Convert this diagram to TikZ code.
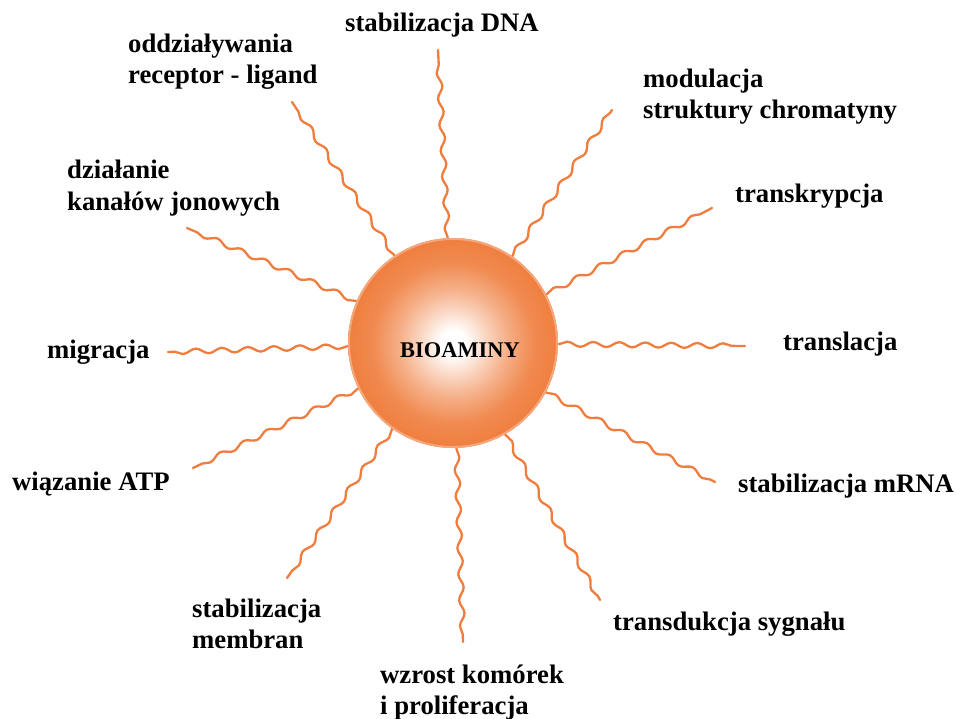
\documentclass[tikz,border=0pt]{standalone}
\usepackage{fontspec}
\setmainfont{Liberation Serif}
\usetikzlibrary{decorations.pathmorphing}
\definecolor{orng}{HTML}{EF7E3E}
\definecolor{rim}{HTML}{F5A67A}
\pgfdeclareradialshading{bulb}{\pgfpoint{0bp}{0bp}}{%
  color(0bp)=(white); color(3bp)=(white); color(8bp)=(orng!32!white);
  color(13bp)=(orng!62!white); color(19bp)=(orng!90!white);
  color(25bp)=(orng); color(50bp)=(orng)}
\newcommand{\twolines}[2]{\vtop{\baselineskip=31bp\hbox{#1}\hbox{#2}}}
\tikzset{
  lbl/.style={anchor=base west, inner sep=0pt, font=\fontsize{26.8}{31}\selectfont\bfseries},
  wavy/.style={draw=orng, line width=2.3bp, line cap=round,
    decorate, decoration={snake, segment length=26bp, amplitude=2.5bp, pre length=1bp, post length=2bp}},
}
\begin{document}
\begin{tikzpicture}[x=1bp,y=-1bp]
\useasboundingbox (0,0) rectangle (956,719);
% outer ends
\coordinate (e1) at (438,50);
\coordinate (e2) at (612,110);
\coordinate (e3) at (712,208);
\coordinate (e4) at (745,346);
\coordinate (e5) at (715,482);
\coordinate (e6) at (600,600);
\coordinate (e7) at (463,642);
\coordinate (e8) at (287,578);
\coordinate (e9) at (193,468);
\coordinate (e10) at (168,352);
\coordinate (e11) at (187,228);
\coordinate (e12) at (292,102);
\node[circle, minimum size=210bp, inner sep=0pt] (ball) at (453,343) {};
\foreach \i in {1,...,12} \draw[wavy] (ball) -- (e\i);
\shade[shading=bulb] (ball.center) circle (105);
\draw[rim, line width=2bp] (ball.center) circle (104);
\node[anchor=base, inner sep=0pt, font=\fontsize{22.5}{27}\selectfont\bfseries] (t0) at (460,357) {BIOAMINY};
% labels
\node[lbl] (t1) at (345,32) {stabilizacja DNA};
\node[lbl] (t2) at (643,88) {\twolines{modulacja}{struktury chromatyny}};
\node[lbl] (t3) at (735,202) {transkrypcja};
\node[lbl] (t4) at (783,350) {translacja};
\node[lbl] (t5) at (738,492) {stabilizacja mRNA};
\node[lbl] (t6) at (613,630) {transdukcja sygnału};
\node[lbl] (t7) at (380,683) {\twolines{wzrost komórek}{i proliferacja}};
\node[lbl] (t8) at (192,617) {\twolines{stabilizacja}{membran}};
\node[lbl] (t9) at (12,490) {wiązanie ATP};
\node[lbl] (t10) at (47,358) {migracja};
\node[lbl] (t11) at (67,179) {\twolines{działanie}{kanałów jonowych}};
\node[lbl] (t12) at (128,53) {\twolines{oddziaływania}{receptor - ligand}};
\end{tikzpicture}
\end{document}
